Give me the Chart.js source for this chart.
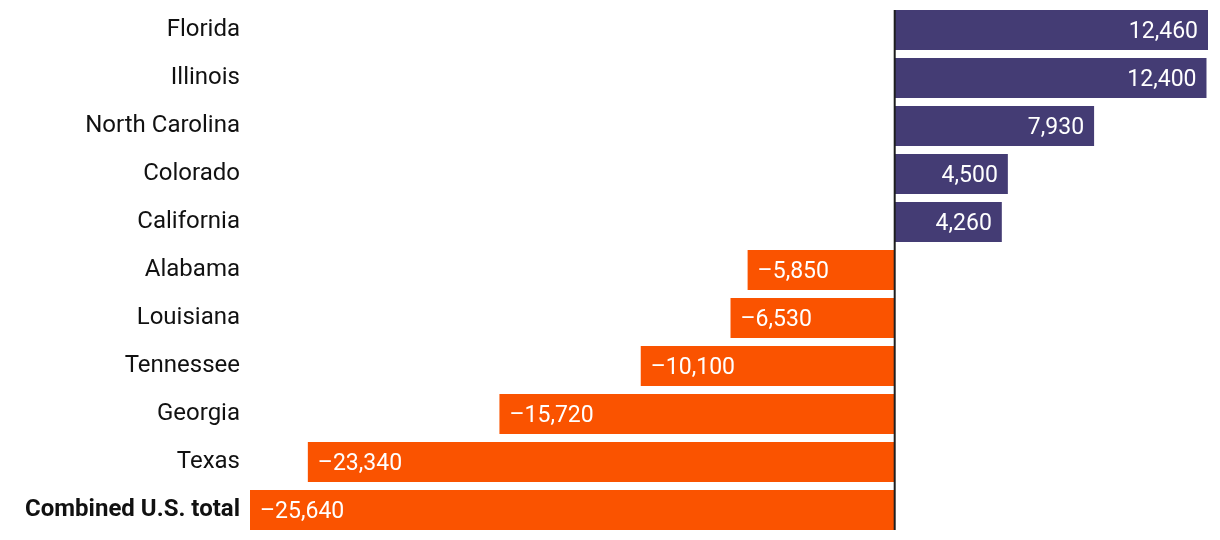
<!DOCTYPE html>
<html><head><meta charset="utf-8">
<script src="https://cdn.jsdelivr.net/npm/chart.js@4"></script>
<style>html,body{margin:0;padding:0;background:#fff}#w{width:1220px;height:540px}</style>
</head><body><div id="w"><canvas id="c"></canvas></div>
<script>
const categories = ["Florida","Illinois","North Carolina","Colorado","California","Alabama","Louisiana","Tennessee","Georgia","Texas","Combined U.S. total"];
const values = [12460,12400,7930,4500,4260,-5850,-6530,-10100,-15720,-23340,-25640];
const POS = "#443C74", NEG = "#FA5300";
const FONT = "Roboto, 'DejaVu Sans', sans-serif";
function fmt(v){ const s = Math.abs(v).toLocaleString('en-US'); return v<0 ? "\u2013"+s : s; }

const labelsPlugin = {
  id:'lbl',
  afterDatasetsDraw(chart){
    const ctx = chart.ctx, meta = chart.getDatasetMeta(0);
    ctx.save();
    ctx.fillStyle = '#fff';
    ctx.font = "400 23px " + FONT;
    ctx.textBaseline = 'middle';
    meta.data.forEach((el,i)=>{
      const v = values[i];
      if (v >= 0){ ctx.textAlign='right'; ctx.fillText(fmt(v), el.x-10, el.y+2); }
      else { ctx.textAlign='left'; ctx.fillText(fmt(v), el.x+10, el.y+2); }
    });
    const x0 = chart.scales.x.getPixelForValue(0);
    ctx.strokeStyle = '#1e1e1e'; ctx.lineWidth = 2;
    ctx.beginPath(); ctx.moveTo(x0, chart.chartArea.top+4); ctx.lineTo(x0, chart.chartArea.bottom-4); ctx.stroke();
    ctx.restore();
  }
};

new Chart(document.getElementById('c'), {
  type:'bar',
  data:{ labels: categories, datasets:[{ data: values,
    backgroundColor: values.map(v=>v>=0?POS:NEG), borderWidth:0,
    barPercentage:0.833, categoryPercentage:1 }]},
  options:{
    indexAxis:'y', responsive:true, maintainAspectRatio:false, animation:false,
    layout:{ padding:{ top:6, bottom:6, left:0, right:12 } },
    plugins:{ legend:{display:false}, tooltip:{enabled:false} },
    scales:{
      x:{ display:false, min:-25640, max:12460 },
      y:{ grid:{display:false, drawTicks:false}, border:{display:false},
        afterFit(s){ s.width = 250; s.paddingTop = 0; s.paddingBottom = 0; },
        ticks:{ padding:10, color:'#111',
          font:(c)=>({ family:FONT, size:24, weight: c.index===10 ? 'bold' : 'normal' }) } }
    }
  },
  plugins:[labelsPlugin]
});
</script></body></html>
